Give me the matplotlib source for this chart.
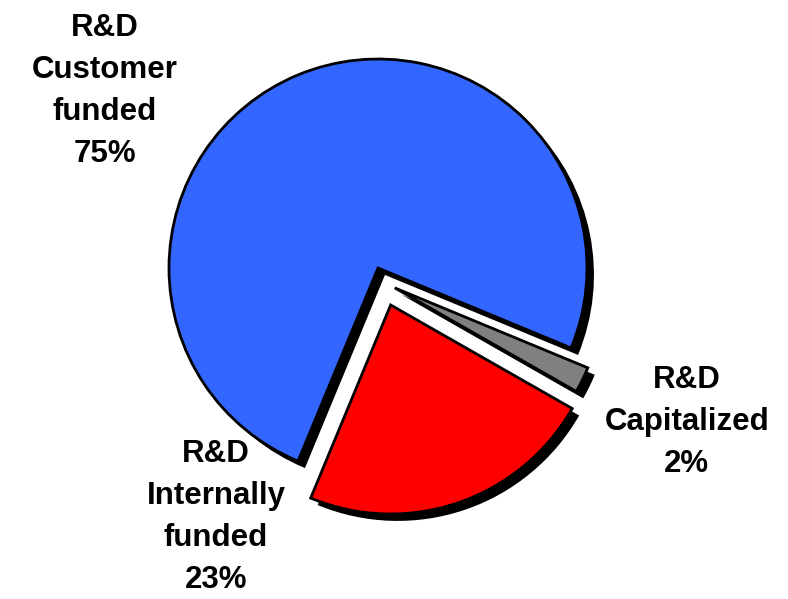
import matplotlib.pyplot as plt
import matplotlib.patheffects as pe

labels = ['R&D\nCustomer\nfunded\n75%', 'R&D\nInternally\nfunded\n23%', 'R&D\nCapitalized\n2%']
values = [75, 23, 2]
colors = ['#3366ff', '#ff0000', '#808080']
explode = [0, 0.187, 0]

# label centres in pie-radius units
label_pos = [(-1.306, 0.846), (-0.775, -1.190), (1.478, -0.737)]

fig = plt.figure(figsize=(7.88, 5.99), dpi=100)
ax = fig.add_axes([0, 0, 1, 1])

shadow = [pe.SimplePatchShadow(offset=(5, -5), shadow_rgbFace='black', alpha=1.0), pe.Normal()]
wedges, _ = ax.pie(values, colors=colors, startangle=-22.5, explode=explode,
                   wedgeprops=dict(edgecolor='black', linewidth=2.0))
for w in wedges:
    w.set_path_effects(shadow)
# the small slice is pulled out down and right, not along its middle
wedges[2].set_center((0.08, -0.095))

for text, (x, y) in zip(labels, label_pos):
    ax.text(x, y, text, ha='center', va='center', fontsize=22.5, fontweight='bold',
            family='Liberation Sans', linespacing=1.52)

ax.set_xlim(-378 / 209, 410 / 209)
ax.set_ylim(-331 / 209, 268 / 209)
ax.set_aspect('equal')
ax.axis('off')

fig.savefig('out.png', dpi=100)
